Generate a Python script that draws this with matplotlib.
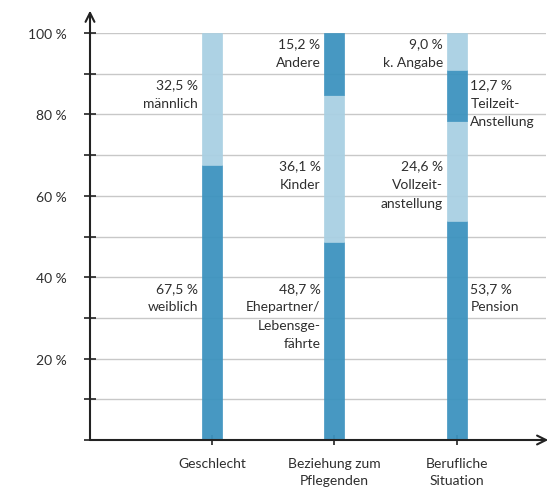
import matplotlib.pyplot as plt
import numpy as np

plt.rcParams['font.family'] = ['Lato', 'DejaVu Sans']

categories = ['Geschlecht', 'Beziehung zum\nPflegenden', 'Berufliche\nSituation']

# stacked shares per category, bottom to top
segments = [
    [67.5, 32.5],
    [48.7, 36.1, 15.2],
    [53.7, 24.6, 12.7, 9.0],
]
seg_labels = [
    ['weiblich', 'männlich'],
    ['Ehepartner/\nLebensge-\nfährte', 'Kinder', 'Andere'],
    ['Pension', 'Vollzeit-\nanstellung', 'Teilzeit-\nAnstellung', 'k. Angabe'],
]
# which side of the bar each label goes on
label_side = [
    ['l', 'l'],
    ['l', 'l', 'l'],
    ['r', 'l', 'r', 'l'],
]
# y position (top of text) for each label
label_y = [
    [40, 90],
    [40, 70, 100],
    [40, 70, 90, 100],
]

dark = '#3d93bf'
light = '#a9d0e3'
txt = '#2e2e2e'

fig = plt.figure(figsize=(5.54, 4.89), dpi=100)
ax = fig.add_axes([90 / 554, 48 / 489, 456 / 554, 407 / 489])

ax.set_xlim(-0.996, 2.73)
ax.set_ylim(0, 100)

for y in np.arange(10, 101, 10):
    ax.axhline(y, color='#c8c8c8', lw=1, zorder=1)

bw = 0.165
for i, vals in enumerate(segments):
    bottom = 0
    for j, v in enumerate(vals):
        col = dark if j % 2 == 0 else light
        ax.bar(i, v, bottom=bottom, width=bw, color=col, alpha=0.95,
               edgecolor=col, lw=0.5, zorder=2)
        side = label_side[i][j]
        if side == 'l':
            x, ha = i - bw / 2 - 0.03, 'right'
        else:
            x, ha = i + bw / 2 + 0.03, 'left'
        ax.text(x, label_y[i][j] - 1.1,
                f'{v:.1f} %'.replace('.', ',') + '\n' + seg_labels[i][j],
                ha=ha, va='top', ma=ha, fontsize=10, color=txt,
                linespacing=1.65)
        bottom += v

for s in ax.spines.values():
    s.set_visible(False)

ax.set_yticks(np.arange(0, 101, 10))
ax.set_yticklabels(['' if y % 20 or y == 0 else f'{y} %' for y in range(0, 101, 10)])
ax.set_xticks(range(3))
ax.set_xticklabels(categories, linespacing=1.45)
ax.tick_params(axis='y', direction='inout', length=9, width=1.2, colors='#222222',
               labelcolor=txt, labelsize=10, pad=12)
ax.tick_params(axis='x', direction='inout', length=7, width=1.2, colors='#222222',
               labelcolor=txt, labelsize=10, pad=9)

# axes drawn as arrows
ax.annotate('', xy=(1.005, 0), xytext=(0, 0), xycoords='axes fraction',
            arrowprops=dict(arrowstyle='->', lw=1.5, color='#222222',
                            mutation_scale=16, shrinkA=0, shrinkB=0),
            annotation_clip=False)
ax.annotate('', xy=(0, 1.055), xytext=(0, 0), xycoords='axes fraction',
            arrowprops=dict(arrowstyle='->', lw=1.5, color='#222222',
                            mutation_scale=16, shrinkA=0, shrinkB=0),
            annotation_clip=False)

fig.savefig('out.png', dpi=100)
